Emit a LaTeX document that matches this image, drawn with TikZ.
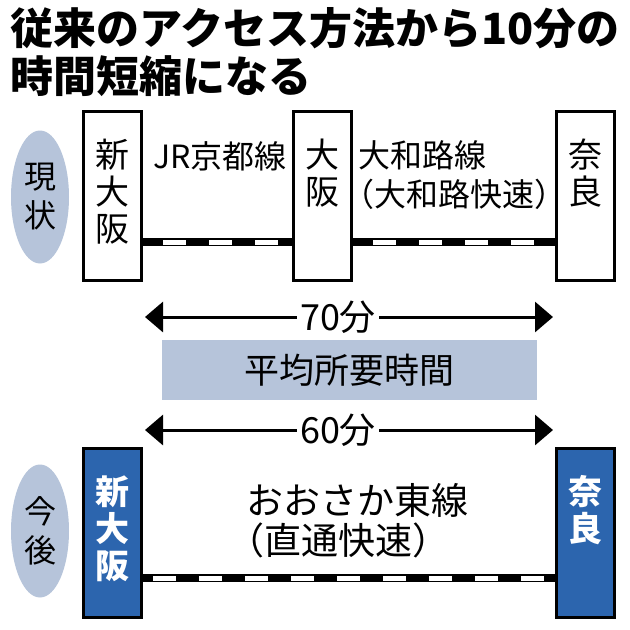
\documentclass[tikz,border=0pt]{standalone}
\usepackage{fontspec}
\setmainfont{Noto Sans CJK JP}
\usetikzlibrary{arrows.meta,shapes.geometric}
\definecolor{stnblue}{HTML}{2C65AE}
\definecolor{pale}{HTML}{B6C4DA}
\tikzset{
  stn/.style={draw,line width=3pt,minimum width=58pt,minimum height=169pt,inner sep=0pt},
  newstn/.style={stn,fill=stnblue},
  stnlbl/.style={anchor=north,yshift=-29pt,inner sep=0pt,align=center,font=\fontsize{34}{37}\selectfont},
  newlbl/.style={stnlbl,text=white,font=\fontsize{34}{37}\selectfont\bfseries},
  era/.style={ellipse,fill=pale,minimum width=58pt,minimum height=133pt,inner sep=0pt,align=center,font=\fontsize{32}{39}\selectfont},
  track/.style={line width=8pt},
  trackw/.style={white,line width=5pt,dash pattern=on 23pt off 23pt},
  dim/.style={{Triangle[length=18pt,width=30pt]}-{Triangle[length=18pt,width=30pt]},line width=3pt},
  lbl/.style={inner sep=0pt,font=\fontsize{32}{39}\selectfont},
  mins/.style={fill=white,inner sep=3pt,font=\fontsize{36}{40}\selectfont}
}
\begin{document}
\begin{tikzpicture}[x=1pt,y=-1pt]
  \useasboundingbox (0,0) rectangle (630,630);
  \node[anchor=north west,inner sep=0pt,align=left,font=\fontsize{43}{48}\selectfont\bfseries] (title)
    at (10,7) {従来のアクセス方法から10分の\\時間短縮になる};
  \node[era] (now) at (40,197) {現\\状};
  \node[stn,label={[stnlbl]north:{新\\大\\阪}}] (shin) at (112.5,196) {};
  \node[stn,label={[stnlbl]north:{大\\阪}}] (osk) at (322.5,196) {};
  \node[stn,label={[stnlbl]north:{奈\\良}}] (nara) at (585,196) {};
  \node[lbl,anchor=west] (jr) at (153,156) {JR京都線};
  \node[lbl,anchor=west,align=left] (yamato) at (358,175.5)
    {大和路線\\{\addfontfeature{RawFeature=+halt}（大和路快速）}};
  \coordinate (t1) at (0,242);
  \draw[track] (shin.east |- t1) -- (osk.west |- t1);
  \draw[trackw,dash phase=26pt] (shin.east |- t1) -- (osk.west |- t1);
  \draw[track] (osk.east |- t1) -- (nara.west |- t1);
  \draw[trackw,dash phase=26pt] (osk.east |- t1) -- (nara.west |- t1);
  \coordinate (a70l) at (145,317);
  \coordinate (a70r) at (553,317);
  \draw[dim] (a70l) -- (a70r);
  \node[mins] (m70) at (338,317) {70分};
  \node[fill=pale,minimum width=375pt,minimum height=60pt,font=\fontsize{35}{40}\selectfont] (avg)
    at (349.5,370) {平均所要時間};
  \coordinate (a60l) at (145,430);
  \coordinate (a60r) at (553,430);
  \draw[dim] (a60l) -- (a60r);
  \node[mins] (m60) at (338,430) {60分};
  \node[era] (later) at (40,531) {今\\後};
  \node[newstn,label={[newlbl]north:{新\\大\\阪}}] (shin2) at (112.5,532.5) {};
  \node[newstn,label={[newlbl]north:{奈\\良}}] (nara2) at (585,532.5) {};
  \node[lbl,anchor=west,align=left,font=\fontsize{37}{40}\selectfont] (east) at (246,521)
    {おおさか東線\\{\addfontfeature{RawFeature=+halt}（直通快速）}};
  \coordinate (t2) at (0,578);
  \draw[track] (shin2.east |- t2) -- (nara2.west |- t2);
  \draw[trackw,dash phase=36pt] (shin2.east |- t2) -- (nara2.west |- t2);
\end{tikzpicture}
\end{document}
